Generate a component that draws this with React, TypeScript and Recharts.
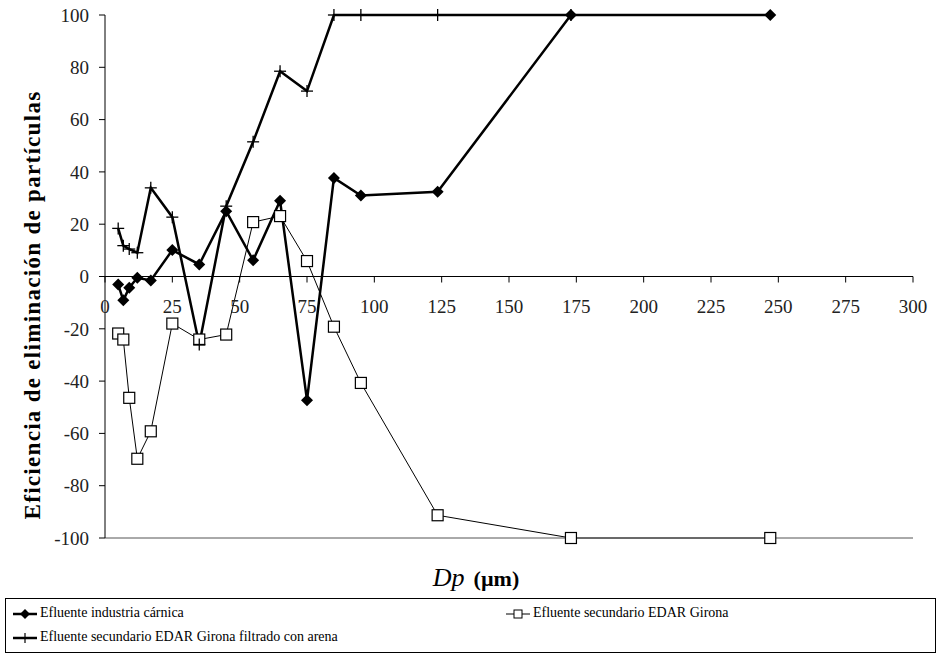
import React from 'react'
import { LineChart, Line, XAxis, YAxis, ReferenceLine } from 'recharts'

// particle diameter classes (µm)
const dp = [4.9, 6.8, 9, 12, 17, 25, 35, 45, 55, 65, 75, 85, 95, 123.5, 173, 247]

const carnica = [-3.1, -9.1, -4.3, -0.5, -1.5, 10.1, 4.6, 25, 6.2, 29, -47.3, 37.7, 31, 32.4, 100, 100]
const edarGirona = [-21.8, -24.1, -46.4, -69.7, -59.2, -18, -24.1, -22.2, 20.8, 23.1, 5.9, -19.2, -40.7, -91.3, -100, -100]
const filtradoArena = [18.4, 11.8, 10.5, 9.1, 33.9, 22.7, -26, 26.9, 51.5, 78.5, 70.9, 100, 100, 100, 100, null]

const xTicks = [0, 25, 50, 75, 100, 125, 150, 175, 200, 225, 250, 275, 300]
const yTicks = [-100, -80, -60, -40, -20, 0, 20, 40, 60, 80, 100]

const seriesNames = [
  'Efluente industria cárnica',
  'Efluente secundario EDAR Girona',
  'Efluente secundario EDAR Girona filtrado con arena',
]

const data = dp.map((d, i) => ({
  dp: d,
  carnica: carnica[i],
  edar: edarGirona[i],
  filtrado: filtradoArena[i],
}))

const FONT = "'Liberation Serif', 'Times New Roman', Tinos, 'DejaVu Serif', 'Noto Serif', serif"
const W = 943
const H = 660
const MARGIN = { top: 15, right: 30, bottom: 0, left: 0 }
const X_AXIS_H = 122
const Y_AXIS_W = 105
const PLOT_H = H - MARGIN.top - X_AXIS_H
// domain is symmetric, so the zero line sits at mid height
const ZERO_Y = MARGIN.top + PLOT_H / 2

const diamondPath = (cx: number, cy: number, r: number) =>
  `${cx},${cy - r} ${cx + r},${cy} ${cx},${cy + r} ${cx - r},${cy}`

const Diamond = (props: any) => {
  const { cx, cy } = props
  if (cx == null || cy == null) return null
  return <polygon points={diamondPath(cx, cy, 6)} fill="#000" />
}

const Square = (props: any) => {
  const { cx, cy } = props
  if (cx == null || cy == null) return null
  return <rect x={cx - 5.5} y={cy - 5.5} width={11} height={11} fill="#fff" stroke="#000" strokeWidth={1.2} />
}

const Plus = (props: any) => {
  const { cx, cy } = props
  if (cx == null || cy == null) return null
  return (
    <g stroke="#000" strokeWidth={1.3}>
      <line x1={cx - 6} x2={cx + 6} y1={cy} y2={cy} />
      <line x1={cx} x2={cx} y1={cy - 6} y2={cy + 6} />
    </g>
  )
}

const XTick = ({ x, payload }: any) => (
  <g>
    <line x1={x} x2={x} y1={ZERO_Y} y2={ZERO_Y + 6} stroke="#000" />
    <text x={x} y={ZERO_Y + 36} textAnchor="middle" fontSize={19} fontFamily={FONT} fill="#222">
      {payload.value}
    </text>
  </g>
)

const LegendIcon = ({ kind }: { kind: string }) => (
  <svg width={26} height={14} style={{ verticalAlign: 'middle', marginRight: 2 }}>
    <line x1={1} x2={25} y1={7} y2={7} stroke="#000" strokeWidth={kind === 'square' ? 1 : 2.5} />
    {kind === 'diamond' && <polygon points={diamondPath(13, 7, 5)} fill="#000" />}
    {kind === 'square' && <rect x={9} y={3} width={8} height={8} fill="#fff" stroke="#000" />}
    {kind === 'plus' && (
      <g stroke="#000" strokeWidth={1.2}>
        <line x1={8} x2={18} y1={7} y2={7} />
        <line x1={13} x2={13} y1={2} y2={12} />
      </g>
    )}
  </svg>
)

export default function App() {
  return (
    <div style={{ position: 'absolute', left: 0, top: 0, width: W, height: H, background: '#fff', fontFamily: FONT }}>
      <LineChart width={W} height={H} data={data} margin={MARGIN}>
        <XAxis
          dataKey="dp"
          type="number"
          domain={[0, 300]}
          ticks={xTicks}
          height={X_AXIS_H}
          axisLine={{ stroke: '#555' }}
          tickLine={false}
          tick={<XTick />}
          interval={0}
        />
        <XAxis xAxisId="top" orientation="top" dataKey="dp" type="number" domain={[0, 300]} height={0} tick={false} tickLine={false} axisLine={{ stroke: '#222' }} />
        <YAxis
          domain={[-100, 100]}
          ticks={yTicks}
          width={Y_AXIS_W}
          axisLine={{ stroke: '#000' }}
          tickLine={{ stroke: '#000' }}
          tickSize={6}
          tickMargin={10}
          interval={0}
          tick={{ fontSize: 19, fontFamily: FONT, fill: '#222' }}
        />
        <YAxis yAxisId="right" orientation="right" domain={[-100, 100]} width={0} tick={false} tickLine={false} axisLine={{ stroke: '#888' }} />
        <ReferenceLine y={0} stroke="#000" strokeWidth={1} />
        <Line
          dataKey="carnica"
          name={seriesNames[0]}
          type="linear"
          stroke="#000"
          strokeWidth={2.5}
          dot={<Diamond />}
          isAnimationActive={false}
        />
        <Line
          dataKey="edar"
          name={seriesNames[1]}
          type="linear"
          stroke="#000"
          strokeWidth={1}
          dot={<Square />}
          isAnimationActive={false}
        />
        <Line
          dataKey="filtrado"
          name={seriesNames[2]}
          type="linear"
          stroke="#000"
          strokeWidth={2.5}
          dot={<Plus />}
          connectNulls={false}
          isAnimationActive={false}
        />
      </LineChart>

      <div
        style={{
          position: 'absolute',
          left: 33,
          top: 305,
          transform: 'translate(-50%, -50%) rotate(-90deg)',
          whiteSpace: 'nowrap',
          fontSize: 23,
          letterSpacing: 1.3,
          fontWeight: 'bold',
          color: '#000',
        }}
      >
        Eficiencia de eliminación de partículas
      </div>

      <div
        style={{
          position: 'absolute',
          left: 476,
          top: 578,
          transform: 'translate(-50%, -50%)',
          whiteSpace: 'nowrap',
          color: '#000',
        }}
      >
        <span style={{ fontStyle: 'italic', fontSize: 26 }}>Dp</span>
        <span style={{ fontWeight: 'bold', fontSize: 22, marginLeft: 9 }}>(µm)</span>
      </div>

      <div
        style={{
          position: 'absolute',
          left: 5,
          top: 598,
          width: 931,
          height: 55,
          border: '1px solid #000',
          boxSizing: 'border-box',
          fontSize: 14,
          color: '#000',
        }}
      >
        <div style={{ position: 'absolute', left: 6, top: 6, whiteSpace: 'nowrap' }}>
          <LegendIcon kind="diamond" />
          {seriesNames[0]}
        </div>
        <div style={{ position: 'absolute', left: 499, top: 6, whiteSpace: 'nowrap' }}>
          <LegendIcon kind="square" />
          {seriesNames[1]}
        </div>
        <div style={{ position: 'absolute', left: 6, top: 30, whiteSpace: 'nowrap' }}>
          <LegendIcon kind="plus" />
          {seriesNames[2]}
        </div>
      </div>
    </div>
  )
}
